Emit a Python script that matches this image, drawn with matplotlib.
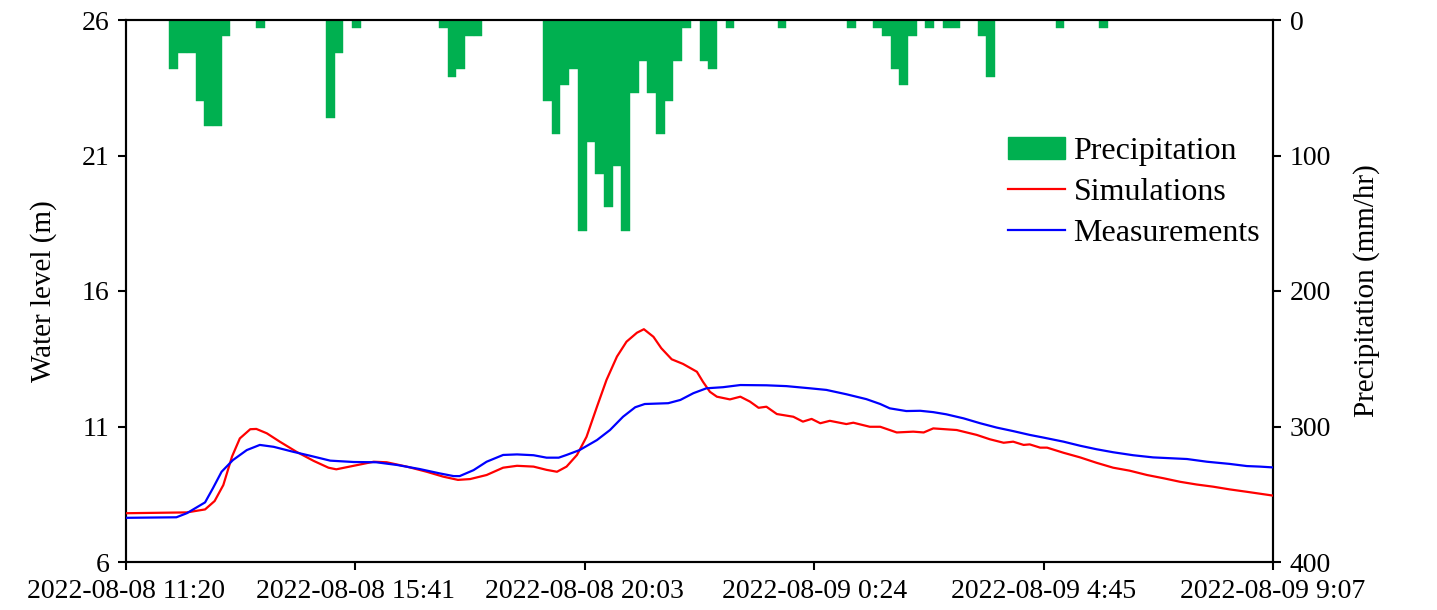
import numpy as np
import matplotlib
matplotlib.use("Agg")
import matplotlib.pyplot as plt
from matplotlib.patches import Patch
from matplotlib.lines import Line2D

plt.rcParams['font.family'] = ['Liberation Serif', 'DejaVu Serif']

# ---- data ----
tick_labels = ["2022-08-08 11:20", "2022-08-08 15:41", "2022-08-08 20:03",
               "2022-08-09 0:24", "2022-08-09 4:45", "2022-08-09 9:07"]

# precipitation (mm/hr) in 10-minute slots starting 2022-08-08 11:20
precip = [0] * 132
precip_nonzero = {5: 36, 6: 24, 7: 24, 8: 60, 9: 78, 10: 78, 11: 12,
                  15: 6, 23: 72, 24: 24, 26: 6,
                  36: 6, 37: 42, 38: 36, 39: 12, 40: 12,
                  48: 60, 49: 84, 50: 48, 51: 36, 52: 156, 53: 90, 54: 114,
                  55: 138, 56: 108, 57: 156, 58: 54, 59: 30, 60: 54, 61: 84,
                  62: 60, 63: 30, 64: 6,
                  66: 30, 67: 36, 69: 6, 75: 6, 83: 6,
                  86: 6, 87: 12, 88: 36, 89: 48, 90: 12,
                  92: 6, 94: 6, 95: 6, 98: 12, 99: 42, 107: 6, 112: 6}
for k, v in precip_nonzero.items():
    precip[k] = v

# simulated water level (minutes from start, m)
sim_t = [0, 70, 91, 102, 112, 122, 131, 143, 150, 162, 177, 196, 216, 233, 242,
         262, 285, 300, 323, 346, 365, 382, 396, 415, 434, 450, 469, 484, 496,
         507, 519, 530, 542, 553, 565, 576, 588, 596, 607, 616, 628, 641, 657,
         664, 672, 680, 695, 707, 718, 728, 737, 749, 768, 779, 789, 799, 810,
         829, 837, 856, 868, 887, 906, 918, 929, 956, 979, 994, 1010, 1021,
         1033, 1040, 1052, 1060, 1079, 1098, 1117, 1136, 1155, 1175, 1194,
         1213, 1232, 1251, 1270, 1290, 1320]
sim_v = [7.80, 7.83, 7.94, 8.25, 8.84, 9.89, 10.56, 10.90, 10.91, 10.75, 10.44,
         10.07, 9.73, 9.48, 9.42, 9.55, 9.70, 9.68, 9.52, 9.33, 9.15, 9.03, 9.06,
         9.21, 9.48, 9.55, 9.52, 9.40, 9.33, 9.52, 9.95, 10.62, 11.73, 12.72,
         13.58, 14.13, 14.46, 14.59, 14.31, 13.89, 13.48, 13.31, 13.02, 12.65,
         12.28, 12.10, 12.00, 12.10, 11.92, 11.69, 11.73, 11.46, 11.36, 11.18,
         11.28, 11.12, 11.21, 11.09, 11.14, 10.99, 10.99, 10.78, 10.81, 10.78,
         10.93, 10.87, 10.69, 10.53, 10.40, 10.44, 10.32, 10.34, 10.22, 10.22,
         10.03, 9.86, 9.66, 9.48, 9.37, 9.21, 9.09, 8.96, 8.86, 8.78, 8.68, 8.59,
         8.45]

# measured water level (minutes from start, m)
meas_t = [0, 58, 70, 91, 100, 110, 123, 139, 154, 170, 192, 212, 235, 262, 288,
          312, 338, 361, 377, 384, 400, 415, 434, 450, 469, 484, 498, 507, 522,
          542, 557, 572, 586, 597, 624, 638, 653, 668, 687, 707, 737, 760, 787,
          806, 829, 852, 868, 879, 898, 914, 929, 944, 964, 983, 1002, 1021,
          1040, 1056, 1079, 1098, 1117, 1136, 1159, 1182, 1221, 1244, 1270,
          1290, 1305, 1320]
meas_v = [7.63, 7.65, 7.80, 8.20, 8.72, 9.33, 9.76, 10.13, 10.32, 10.25, 10.07,
          9.92, 9.74, 9.69, 9.68, 9.58, 9.43, 9.27, 9.17, 9.17, 9.39, 9.70, 9.95,
          9.97, 9.94, 9.85, 9.85, 9.95, 10.13, 10.50, 10.87, 11.36, 11.71, 11.83,
          11.86, 11.98, 12.23, 12.41, 12.45, 12.53, 12.52, 12.49, 12.41, 12.35,
          12.19, 12.01, 11.83, 11.67, 11.57, 11.58, 11.53, 11.45, 11.30, 11.12,
          10.96, 10.83, 10.69, 10.59, 10.44, 10.29, 10.16, 10.05, 9.94, 9.86,
          9.80, 9.70, 9.62, 9.54, 9.52, 9.49]

# ---- figure ----
W, H = 1437, 610
fig = plt.figure(figsize=(W / 100, H / 100), dpi=100)
ax = fig.add_axes([126 / W, 1 - 562 / H, (1273 - 126) / W, (562 - 20) / H])
axp = ax.twinx()

slot = 10
bx = np.arange(len(precip)) * slot
axp.bar(bx, precip, width=slot, align='edge', color='#00B050',
        edgecolor='#00B050', linewidth=0.3, zorder=1)
axp.set_ylim(400, 0)
axp.set_yticks([0, 100, 200, 300, 400])

ax.plot(sim_t, sim_v, color='#FF0000', lw=1.6, zorder=3)
ax.plot(meas_t, meas_v, color='#0000FF', lw=1.6, zorder=3)
ax.set_zorder(axp.get_zorder() + 1)
ax.patch.set_visible(False)

ax.set_xlim(0, 1320)
ax.set_ylim(6, 26)
ax.set_yticks([6, 11, 16, 21, 26])
ax.set_xticks(np.linspace(0, 1320, 6))
ax.set_xticklabels(tick_labels)

fs = 20
for a in (ax, axp):
    a.tick_params(direction='out', length=6, width=1.5, labelsize=fs, pad=6)
    for s in a.spines.values():
        s.set_linewidth(1.5)
        s.set_color('black')

ax.set_ylabel("Water level (m)", fontsize=fs + 1, labelpad=18)
axp.set_ylabel("Precipitation (mm/hr)", fontsize=fs + 1, labelpad=16)

handles = [Patch(facecolor='#00B050', edgecolor='#00B050'),
           Line2D([], [], color='#FF0000', lw=1.6),
           Line2D([], [], color='#0000FF', lw=1.6)]
fig.legend(handles, ["Precipitation", "Simulations", "Measurements"],
           loc='upper left', bbox_to_anchor=(992 / W, 1 - 121 / H),
           frameon=False, fontsize=fs + 3, handlelength=1.8,
           handletextpad=0.25, labelspacing=0.36, borderpad=0)

fig.savefig("out.png", dpi=100)
